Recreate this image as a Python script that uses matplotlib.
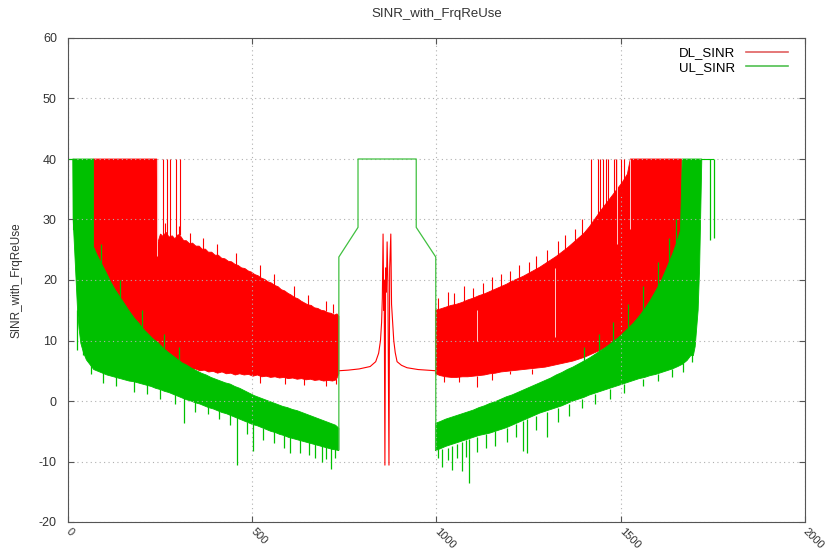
import matplotlib
matplotlib.use("Agg")
import matplotlib.pyplot as plt
from matplotlib.lines import Line2D

plt.rcParams['font.family'] = ['Liberation Sans', 'DejaVu Sans']
plt.rcParams['axes.unicode_minus'] = False

RED = "#ff0000"
GREEN = "#00c000"

# ---- values: edges of the dense DL/UL traces ----

# DL_SINR left lobe
dl_l_top_x = [69, 241, 243, 251, 258, 266, 274, 283, 290, 299, 306, 314, 321, 330, 338, 347, 356, 364, 373,
              381, 390, 399, 408, 417, 426, 435, 444, 453, 462, 471, 480, 489, 498, 507, 516, 525, 534,
              543, 552, 561, 570, 579, 588, 597, 606, 615, 624, 633, 642, 651, 660, 669, 678, 687, 696,
              705, 714, 723, 730, 735]
dl_l_top_y = [40, 40, 26.0, 27.6, 27.2, 27.9, 27.1, 27.3, 26.8, 27.5, 27.2, 26.5, 26.5, 26.0, 26.1, 25.6, 25.6,
              25.1, 25.1, 24.6, 24.6, 24.1, 24.1, 23.6, 23.5, 23.1, 23.0, 22.6, 22.4, 22.0, 21.9, 21.5,
              21.3, 20.9, 20.7, 20.3, 20.1, 19.7, 19.5, 19.1, 18.9, 18.4, 18.2, 17.8, 17.5, 17.1, 16.9,
              16.5, 16.2, 15.9, 15.8, 15.4, 15.3, 15.0, 14.9, 14.6, 14.5, 14.2, 14.4, 14.0]
dl_l_bot_x = [69, 115, 160, 205, 250, 290, 310, 322, 334, 346, 358, 370, 382, 394, 406, 418, 430, 442, 454,
              466, 478, 490, 502, 514, 526, 538, 550, 562, 574, 586, 598, 610, 622, 634, 646, 658, 670,
              682, 694, 706, 718, 728, 735]
dl_l_bot_y = [22, 18, 14, 10.5, 8, 6.5, 5.5, 5.6, 5.2, 5.3, 5.0, 5.1, 4.8, 4.9, 4.6, 4.8, 4.5, 4.6, 4.3,
              4.5, 4.3, 4.4, 4.1, 4.3, 4.0, 4.1, 3.9, 4.0, 3.8, 3.9, 3.7, 3.8, 3.6, 3.7, 3.5, 3.6, 3.4,
              3.5, 3.3, 3.4, 3.3, 3.5, 4.5]

# DL_SINR right lobe
dl_r_top_x = [997, 1010, 1025, 1040, 1055, 1070, 1085, 1100, 1115, 1130, 1145, 1160, 1175, 1190, 1205, 1220,
              1235, 1250, 1265, 1280, 1295, 1310, 1325, 1340, 1355, 1370, 1385, 1400, 1415, 1430, 1445,
              1460, 1475, 1490, 1505, 1518, 1526, 1665]
dl_r_top_y = [15.0, 15.2, 15.5, 15.8, 16.0, 16.3, 16.7, 17.0, 17.4, 17.7, 18.1, 18.5, 18.9, 19.3, 19.8, 20.2,
              20.6, 21.1, 21.6, 22.1, 22.7, 23.3, 23.9, 24.6, 25.3, 26.1, 26.9, 27.7, 28.8, 30.1, 31.4,
              32.6, 33.8, 35.0, 36.2, 37.5, 40, 40]
dl_r_bot_x = [997, 1010, 1025, 1040, 1055, 1070, 1085, 1100, 1115, 1130, 1145, 1160, 1175, 1190, 1205, 1220,
              1235, 1250, 1265, 1280, 1295, 1310, 1325, 1340, 1355, 1370, 1385, 1400, 1415, 1430, 1445,
              1460, 1475, 1490, 1505, 1520, 1535, 1550, 1565, 1580, 1595, 1610, 1625, 1640, 1652, 1665]
dl_r_bot_y = [4.5, 4.2, 4.0, 3.9, 3.9, 4.0, 4.0, 4.1, 4.2, 4.3, 4.5, 4.6, 4.8, 4.9, 5.0, 5.1,
              5.2, 5.3, 5.4, 5.5, 5.6, 5.8, 6.0, 6.2, 6.4, 6.6, 6.9, 7.2, 7.6, 8.0, 8.4,
              8.9, 9.4, 9.9, 10.5, 11.2, 12.0, 13.0, 14.2, 15.6, 17.2, 19.0, 21.0, 23.2, 25.5, 28]

# DL_SINR thin spikes: (x, from, to)
dl_up_x = [241, 259, 269, 278, 292, 305, 262, 300, 330, 366, 405, 455, 520, 560, 612, 650, 700, 718,
           1005, 1030, 1048, 1075, 1100, 1125, 1150, 1175, 1200, 1225, 1250, 1270, 1300, 1330, 1350, 1375,
           1395, 1418, 1437, 1445, 1451, 1460, 1465, 1482, 1487, 1500, 1510]
dl_up_lo = [26, 27, 27, 26.5, 27, 27.5, 27.5, 27, 26, 25, 24, 22.5, 20, 19, 17, 15.8, 14.8, 14.5,
            15, 15.5, 15.8, 16.3, 17, 17.5, 18.2, 18.9, 19.5, 20.3, 21.1, 21.8, 22.7, 24, 25, 26.3,
            27.5, 28, 30, 30.5, 31, 32, 32, 33, 33, 34, 35]
dl_up_hi = [40, 40, 40, 40, 40, 40, 29.5, 29, 27.8, 27, 26, 24.5, 22.5, 21, 19, 17.5, 16.5, 16,
            17, 18, 17.8, 19, 18.6, 19.5, 20.5, 21, 21.5, 22.4, 23, 24, 25, 26.5, 27.5, 28.5,
            30, 40, 40, 40, 40, 40, 40, 40, 40, 40, 40]
dl_down_x = [520, 590, 640, 700, 726, 1020, 1060, 1110, 1150, 1200, 1260]
dl_down_lo = [3.0, 2.8, 2.6, 2.5, 2.8, 3.1, 3.2, 2.3, 3.5, 4.5, 4.5]
dl_down_hi = [4.3, 4.0, 3.8, 3.5, 3.6, 4.1, 4.1, 4.2, 4.6, 5.0, 5.3]
# light gaps inside the red band
dl_gap_x = [241, 1110, 1322, 1490, 1526]
dl_gap_lo = [24, 10, 10.6, 26, 28.5]
dl_gap_hi = [40, 15, 22, 40, 40]

# DL_SINR centre (single trace)
dl_mid_x = [735, 760, 790, 820, 835, 843, 848, 851, 853, 855, 857, 858, 860, 862, 864, 866, 868,
            871, 873, 876, 878, 881, 884, 888, 893, 905, 920, 950, 998]
dl_mid_y = [5.0, 5.1, 5.3, 5.7, 6.5, 7.9, 10, 13, 17, 27.6, 15, 20, -10.6, 22, 18, 26.3, 20,
            -10.6, 22, 27.6, 16, 13, 10, 8, 6.5, 5.9, 5.5, 5.2, 5.0]

# UL_SINR left lobe
ul_l_top_x = [13, 69, 69, 80, 92, 104, 115, 128, 141, 154, 167, 180, 193, 206, 219, 232, 245, 258, 271, 284,
              297, 310, 323, 336, 349, 362, 375, 388, 401, 414, 427, 440, 453, 466, 479, 492, 505, 518,
              531, 544, 557, 570, 583, 596, 609, 622, 635, 648, 661, 674, 687, 700, 713, 726, 735]
ul_l_top_y = [40, 40, 25.5, 24.0, 22.6, 21.2, 19.8, 18.4, 17.2, 16.0, 14.8, 13.7, 12.8, 11.8, 11.0, 10.2, 9.6,
              8.8, 8.1, 7.5, 6.9, 6.3, 5.9, 5.4, 5.0, 4.6, 4.3, 3.9, 3.6, 3.3, 3.0, 2.8, 2.4, 2.1, 1.7,
              1.3, 0.9, 0.6, 0.3, 0.0, -0.3, -0.6, -0.9, -1.1, -1.4, -1.6, -1.9, -2.2, -2.5, -2.8, -3.1,
              -3.4, -3.7, -4.0, -4.5]
ul_l_bot_x = [13, 14, 18, 22, 26, 30, 35, 42, 50, 60, 70, 82, 94, 106, 118, 130, 142, 154, 166, 178, 190,
              202, 214, 226, 238, 250, 262, 274, 286, 298, 310, 322, 334, 346, 358, 370, 382, 394, 406,
              418, 430, 442, 454, 466, 478, 490, 502, 514, 526, 538, 550, 562, 574, 586, 598, 610, 622,
              634, 646, 658, 670, 682, 694, 706, 718, 728, 735]
ul_l_bot_y = [40, 30, 25, 20, 15, 12, 9.5, 8, 6.8, 6.0, 5.2, 4.9, 4.6, 4.3, 4.1, 3.9, 3.7, 3.5, 3.3, 3.2,
              3.0, 2.8, 2.6, 2.4, 2.1, 1.9, 1.6, 1.4, 1.1, 0.8, 0.5, 0.2, 0.0, -0.3, -0.5, -0.8, -1.1,
              -1.3, -1.6, -1.9, -2.1, -2.4, -2.7, -3.0, -3.3, -3.6, -3.9, -4.1, -4.4, -4.7, -5.0, -5.2,
              -5.5, -5.7, -6.0, -6.2, -6.4, -6.6, -6.8, -7.0, -7.2, -7.4, -7.6, -7.8, -8.0, -8.1, -8.2]

# UL_SINR right lobe
ul_r_top_x = [997, 1010, 1025, 1040, 1055, 1070, 1085, 1100, 1115, 1130, 1145, 1160, 1175, 1190, 1205, 1220,
              1235, 1250, 1265, 1280, 1295, 1310, 1325, 1340, 1355, 1370, 1385, 1400, 1415, 1430, 1445,
              1460, 1475, 1490, 1505, 1520, 1535, 1550, 1565, 1580, 1595, 1610, 1625, 1640, 1652, 1662,
              1667, 1720]
ul_r_top_y = [-3.7, -3.4, -3.0, -2.7, -2.4, -2.1, -1.8, -1.5, -1.1, -0.8, -0.4, -0.1, 0.3, 0.7, 1.0, 1.4,
              1.8, 2.2, 2.6, 3.0, 3.4, 3.8, 4.3, 4.7, 5.2, 5.6, 6.1, 6.6, 7.1, 7.7, 8.3,
              8.9, 9.6, 10.3, 11.1, 12.0, 12.9, 14.0, 15.2, 16.6, 18.2, 19.9, 22.0, 24.2, 26.2, 28.2,
              40, 40]
ul_r_bot_x = [997, 1010, 1025, 1040, 1055, 1070, 1085, 1100, 1115, 1130, 1145, 1160, 1175, 1190, 1205, 1220,
              1235, 1250, 1265, 1280, 1295, 1310, 1325, 1340, 1355, 1370, 1385, 1400, 1415, 1430, 1445,
              1460, 1475, 1490, 1505, 1520, 1535, 1550, 1565, 1580, 1595, 1610, 1625, 1640, 1655, 1668,
              1680, 1690, 1697, 1702, 1706, 1710, 1714, 1720]
ul_r_bot_y = [-8.2, -7.9, -7.5, -7.2, -6.9, -6.6, -6.3, -6.0, -5.7, -5.5, -5.3, -5.0, -4.7, -4.4, -4.0, -3.6,
              -3.2, -2.8, -2.4, -2.0, -1.7, -1.4, -1.1, -0.8, -0.4, 0.0, 0.3, 0.6, 1.0, 1.3, 1.6,
              1.9, 2.2, 2.5, 2.8, 3.1, 3.4, 3.7, 3.9, 4.2, 4.4, 4.7, 5.0, 5.3, 5.7, 6.1,
              6.7, 7.5, 7.5, 9, 12, 15, 22, 40]

# UL_SINR thin spikes: (x, from, to)
ul_spk_x = [24, 40, 62, 95, 130, 180, 215, 250, 290, 314, 345, 380, 410, 440, 459, 485, 501, 530, 560, 585,
            603, 630, 655, 670, 689, 700, 713, 725,
            1003, 1015, 1030, 1042, 1055, 1069, 1080, 1089, 1110, 1135, 1160, 1190, 1215, 1236, 1246, 1270,
            1301, 1330, 1360, 1395, 1430, 1470, 1510, 1560, 1600, 1640, 1670, 1692,
            90, 140, 200, 260, 300, 1400, 1440, 1480, 1520, 1560, 1600, 1630, 1650]
ul_spk_lo = [8.5, 7.6, 4.5, 3.0, 2.5, 1.5, 1.2, 0.3, -0.5, -3.7, -1.8, -2.2, -3.0, -4.0, -10.6, -5.5, -8.2, -6.5,
             -7.0, -7.8, -8.6, -8.6, -9.0, -9.4, -10.1, -9.6, -11.2, -9.5,
             -9.5, -10.9, -9.8, -11.4, -9.5, -11.6, -9.2, -13.6, -8.5, -7.8, -7.5, -6.7, -6.0, -8.2, -8.6, -4.8,
             -5.9, -3.5, -2.4, -1.2, -0.5, 0.4, 1.4, 2.5, 3.3, 4.0, 4.8, 6.5,
             22.6, 17.2, 12.2, 8.8, 6.8, 6.6, 8.0, 9.8, 12.0, 14.6, 18.5, 22.6, 26.0]
ul_spk_hi = [15, 12, 6.5, 5, 4.3, 3.5, 2.8, 2, 1.3, 0.8, 0, -0.6, -1.4, -2.2, -2.6, -3.4, -3.8, -4.5, -5.0,
             -5.6, -6.0, -6.4, -6.8, -7.0, -7.3, -7.6, -7.8, -7.8,
             -8, -8, -7.8, -7.4, -7.1, -6.8, -6.5, -6.3, -5.9, -5.4, -5, -4.4, -3.8, -3.3, -3.0, -2.5,
             -1.8, -1.2, -0.5, 0.3, 1.2, 2.0, 2.8, 3.7, 4.5, 5.3, 6.2, 8,
             26, 20, 15, 11, 9, 9, 11, 13, 16, 19, 23, 27, 30]

# UL_SINR centre (single trace) and thin pieces at both ends
ul_mid_x = [735, 735, 787, 787, 945, 945, 998, 998]
ul_mid_y = [-8, 23.8, 28.7, 40, 40, 28.7, 23.8, -8]
ul_head_x = [0, 13, 13]
ul_head_y = [40, 40, 28.5]
ul_tail_x = [1743, 1752]
ul_tail_lo = [26.6, 27.0]


def band(ax, top_x, top_y, bot_x, bot_y, color):
    ax.fill(list(top_x) + list(bot_x[::-1]), list(top_y) + list(bot_y[::-1]),
            color=color, lw=0.6, ec=color)


fig = plt.figure(figsize=(8.28, 5.52), dpi=100)
ax = fig.add_axes([68 / 828, 30 / 552, 737 / 828, 484 / 552])

# DL first, UL on top (gnuplot draws in that order)
band(ax, dl_l_top_x, dl_l_top_y, dl_l_bot_x, dl_l_bot_y, RED)
band(ax, dl_r_top_x, dl_r_top_y, dl_r_bot_x, dl_r_bot_y, RED)
ax.vlines(dl_up_x, dl_up_lo, dl_up_hi, color=RED, lw=0.8)
ax.vlines(dl_down_x, dl_down_lo, dl_down_hi, color=RED, lw=0.8)
ax.vlines(dl_gap_x, dl_gap_lo, dl_gap_hi, color="#ffc8c8", lw=0.7)
ax.plot(dl_mid_x, dl_mid_y, color=RED, lw=0.8)

band(ax, ul_l_top_x, ul_l_top_y, ul_l_bot_x, ul_l_bot_y, GREEN)
band(ax, ul_r_top_x, ul_r_top_y, ul_r_bot_x, ul_r_bot_y, GREEN)
ax.vlines(ul_spk_x, ul_spk_lo, ul_spk_hi, color=GREEN, lw=0.9)
ax.vlines(ul_tail_x, ul_tail_lo, 40, color=GREEN, lw=0.9)
ax.plot(ul_head_x, ul_head_y, color=GREEN, lw=0.8)
ax.plot(ul_mid_x, ul_mid_y, color="#40c040", lw=0.9)
ax.plot([1720, 1750], [40, 40], color=GREEN, lw=0.8)

ax.set_xlim(0, 2000)
ax.set_ylim(-20, 60)
ax.set_xticks([0, 500, 1000, 1500, 2000])
ax.set_yticks(range(-20, 61, 10))
ax.grid(True, color="#b0b0b0", ls=(0, (1, 3)), lw=0.8)
ax.tick_params(direction="in", top=True, right=True, length=4, color="#555555",
               labelsize=9, labelcolor="#333333")
ax.tick_params(axis="y", pad=8)
ax.tick_params(axis="x", pad=6, labelsize=8)
for s in ax.spines.values():
    s.set_color("#555555")
for lab in ax.get_xticklabels():
    lab.set_rotation(-45)
    lab.set_ha("left")
    lab.set_va("center")
    lab.set_rotation_mode("anchor")

ax.set_title("SINR_with_FrqReUse", fontsize=9.5, color="#333333", pad=15)
ax.set_ylabel("SINR_with_FrqReUse", fontsize=8.5, color="#333333")
ax.yaxis.set_label_coords(-0.062, 0.5)

handles = [Line2D([], [], color="#e06060", lw=1.2), Line2D([], [], color="#50c050", lw=1.2)]
ax.legend(handles, ["DL_SINR", "UL_SINR"], loc="upper right", frameon=False, markerfirst=False,
          fontsize=9.5, handlelength=3.2, handletextpad=0.8, labelspacing=0.15,
          bbox_to_anchor=(0.99, 1.0), borderaxespad=0.3)

fig.savefig("out.png", dpi=100)
